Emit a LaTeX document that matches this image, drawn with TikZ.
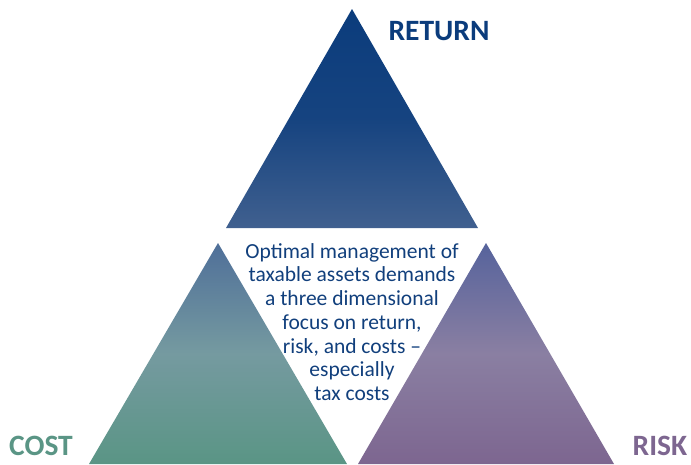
\documentclass[tikz,border=0pt]{standalone}
\usepackage{fontspec}
\setmainfont{Carlito}
\usetikzlibrary{positioning}
\definecolor{return_blue}{HTML}{0B3C7C}
\definecolor{return_low}{HTML}{40608F}
\definecolor{cost_top}{HTML}{4F6F99}
\definecolor{cost_mid}{HTML}{759AA0}
\definecolor{cost_green}{HTML}{5A9585}
\definecolor{risk_top}{HTML}{56639C}
\definecolor{risk_mid}{HTML}{8A7FA2}
\definecolor{risk_purple}{HTML}{7D6690}
\definecolor{text_blue}{HTML}{113F7C}
\tikzset{corner/.style={font=\bfseries\fontsize{29.5}{32}\selectfont,inner sep=1pt}}

\begin{document}
\begin{tikzpicture}[x=1pt,y=-1pt,line join=round]
		\useasboundingbox (0,0) rectangle (691,464);
		% vertices of the three triangles
		\coordinate (rt) at (352,9);
		\coordinate (rl) at (226,228);
		\coordinate (rr) at (478,228);
		\coordinate (ct) at (218,243);
		\coordinate (cl) at (89,464);
		\coordinate (cr) at (347,464);
		\coordinate (kt) at (486,243);
		\coordinate (kl) at (358,464);
		\coordinate (kr) at (614,464);
		\shade[top color=return_blue,bottom color=return_low,middle color=return_blue!80!return_low]
			(rt) -- (rl) -- (rr) -- cycle;
		\shade[top color=cost_top,bottom color=cost_green,middle color=cost_mid]
			(ct) -- (cl) -- (cr) -- cycle;
		\shade[top color=risk_top,bottom color=risk_purple,middle color=risk_mid]
			(kt) -- (kl) -- (kr) -- cycle;
		% labels
		\node[corner,text=return_blue] (return) at (439,31) {RETURN};
		\node[corner,text=cost_green]  (cost)   at (41,446) {COST};
		\node[corner,text=risk_purple] (risk)   at (660,446) {RISK};
		\node[text=text_blue,align=center,font=\fontsize{21.5}{23.7}\selectfont] (focus) at (352,322)
			{Optimal management of\\taxable assets demands\\a three dimensional\\focus on return,\\risk, and costs --\\especially\\tax costs};
	\end{tikzpicture}
\end{document}
